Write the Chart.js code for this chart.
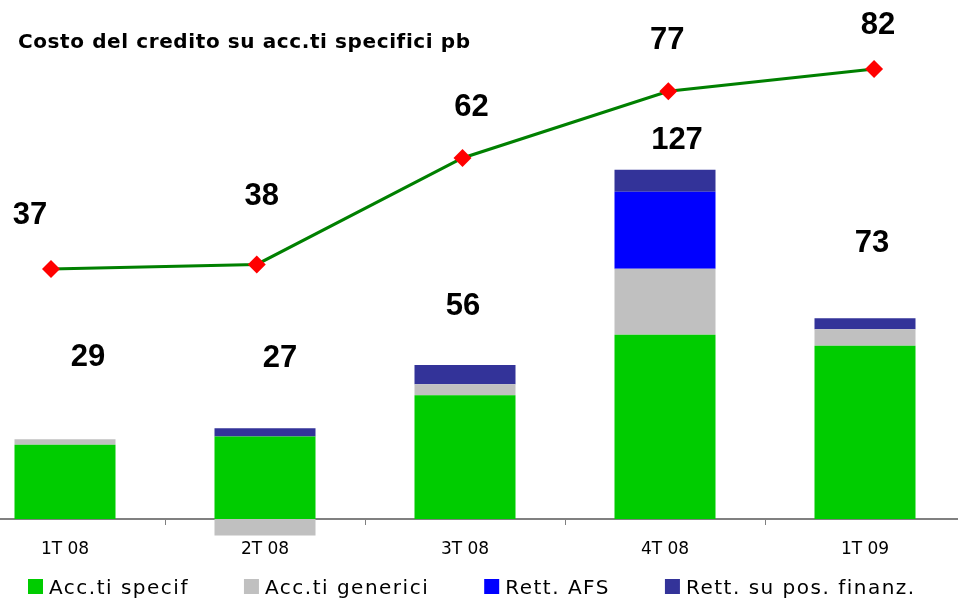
<!DOCTYPE html>
<html>
<head>
<meta charset="utf-8">
<script src="https://cdn.jsdelivr.net/npm/chart.js@4/dist/chart.umd.min.js"></script>
<style>
  html, body { margin: 0; padding: 0; background: #fff; overflow: hidden; width: 958px; height: 598px; }
  #wrap { position: absolute; left: -44px; top: 0; width: 1018px; height: 598px; }
</style>
</head>
<body>
<div id="wrap"><canvas id="c" width="1018" height="598"></canvas></div>
<script>
// ---- data ----
const categories = ['1T 08', '2T 08', '3T 08', '4T 08', '1T 09'];
const accSpecif = [27, 30, 45, 67, 63];
const accGenerici = [2, -6, 4, 24, 6];
const rettAFS = [0, 0, 0, 28, 0];
const rettPosFinanz = [0, 3, 7, 8, 4];
const costoCredito = [37, 38, 62, 77, 82];
const seriesNames = ['Acc.ti specif', 'Acc.ti generici', 'Rett. AFS', 'Rett. su pos. finanz.'];
const titleText = 'Costo del credito su acc.ti specifici pb';

// ---- style ----
const SHIFT = 44; // canvas is shifted left by this many px
const colors = ['#00CC00', '#C0C0C0', '#0000FF', '#333399'];
const totalLabelOffsets = [[23, -82], [15, -70], [-2, -59], [12, -29], [7, -75]];
const lineLabelOffsets = [[-21, -54], [5, -68], [9, -50], [-1, -51], [4, -44]];

const barSets = [accSpecif, accGenerici, rettAFS, rettPosFinanz].map((arr, k) => ({
  type: 'bar',
  label: seriesNames[k],
  data: arr,
  backgroundColor: colors[k],
  borderWidth: 0,
  grouped: false,
  categoryPercentage: 1,
  barPercentage: 0.505,
  stack: 's',
  xAxisID: 'x',
  yAxisID: 'y',
  clip: false
}));

const lineSet = {
  type: 'line',
  label: 'Costo del credito',
  data: costoCredito.map((v, i) => ({ x: i, y: v })),
  borderColor: '#008000',
  borderWidth: 3.2,
  pointStyle: 'rectRot',
  pointRadius: 9,
  pointHoverRadius: 9,
  pointBackgroundColor: '#FF0000',
  pointBorderColor: '#FF0000',
  pointBorderWidth: 0,
  xAxisID: 'x2',
  yAxisID: 'y2',
  clip: false,
  tension: 0
};

const labelsPlugin = {
  id: 'labels',
  afterDatasetsDraw(chart) {
    const ctx = chart.ctx;
    const xs = chart.scales.x, ys = chart.scales.y;
    const x2 = chart.scales.x2, y2 = chart.scales.y2;
    ctx.save();
    ctx.fillStyle = '#000';
    ctx.textAlign = 'center';
    ctx.textBaseline = 'middle';
    ctx.font = 'bold 31px "Liberation Sans", Arial, sans-serif';
    categories.forEach((c, i) => {
      const vals = [accSpecif[i], accGenerici[i], rettAFS[i], rettPosFinanz[i]];
      const pos = vals.filter(v => v > 0).reduce((a, b) => a + b, 0);
      const total = vals.reduce((a, b) => a + b, 0);
      const px = xs.getPixelForValue(i) + totalLabelOffsets[i][0];
      const py = ys.getPixelForValue(pos) + totalLabelOffsets[i][1];
      ctx.fillText(String(total), px, py);
    });
    costoCredito.forEach((v, i) => {
      const px = x2.getPixelForValue(i) + lineLabelOffsets[i][0];
      const py = y2.getPixelForValue(v) + lineLabelOffsets[i][1];
      ctx.fillText(String(v), px, py);
    });
    // title
    ctx.textAlign = 'left';
    ctx.textBaseline = 'alphabetic';
    ctx.font = 'bold 20px "DejaVu Sans", Verdana, sans-serif';
    ctx.letterSpacing = '0.6px';
    ctx.fillText(titleText, 18 + SHIFT, 48);
    // legend
    ctx.font = '20px "DejaVu Sans", Verdana, sans-serif';
    ctx.letterSpacing = '1.5px';
    let lx = 28 + SHIFT;
    seriesNames.forEach((name, k) => {
      ctx.fillStyle = colors[k];
      ctx.fillRect(lx, 579, 15, 15);
      ctx.fillStyle = '#000';
      ctx.fillText(name, lx + 21, 594);
      lx += 21 + ctx.measureText(name).width + 55;
    });
    ctx.restore();
  }
};

new Chart(document.getElementById('c'), {
  data: {
    labels: categories,
    datasets: [...barSets, lineSet]
  },
  options: {
    responsive: false,
    animation: false,
    layout: { padding: 0 },
    plugins: { legend: { display: false }, tooltip: { enabled: false }, title: { display: false } },
    scales: {
      x: {
        type: 'category',
        stacked: true,
        offset: true,
        grid: { display: true, drawOnChartArea: false, drawTicks: true, tickLength: 6, color: '#808080', offset: true },
        border: { display: true, color: '#808080', width: 2 },
        ticks: { color: '#000', font: { family: '"DejaVu Sans", Verdana, sans-serif', size: 17 }, padding: 14, maxRotation: 0 },
        afterFit(scale) { scale.height = 79; }
      },
      y: {
        stacked: true,
        display: false,
        min: 0,
        max: 185.45
      },
      x2: {
        type: 'linear',
        display: false,
        min: -0.418,
        max: 4.442
      },
      y2: {
        type: 'linear',
        display: false,
        min: -19.26,
        max: 95.5
      }
    }
  },
  plugins: [labelsPlugin]
});
</script>
</body>
</html>
